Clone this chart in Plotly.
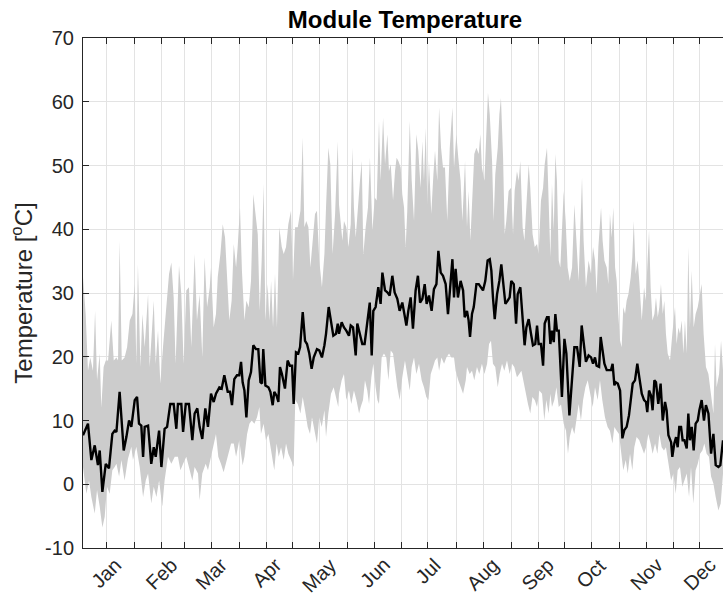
import pandas as pd
import plotly.graph_objects as go

# Daily module temperature: mean line and min/max envelope.
# Day values are days elapsed since 1 Jan 2019 00:00.
mean_day = [
    1.0, 3.8, 5.7, 7.6, 9.4, 10.4, 11.9, 13.8, 15.6, 17.5, 18.8, 19.8, 21.6, 23.9, 25.4, 26.9,
    28.2, 30.1, 31.4, 32.5, 33.8, 34.8, 35.7, 37.6, 39.4, 40.8, 41.9, 43.8, 45.1, 46.9, 48.3,
    50.1, 52.0, 53.5, 54.4, 56.3, 57.3, 58.8, 60.6, 62.5, 63.8, 65.3, 66.6, 68.1, 69.8, 71.3,
    73.0, 74.5, 75.8, 77.7, 79.0, 80.5, 82.4, 83.7, 84.8, 86.1, 87.6, 88.9, 89.9, 90.8, 91.8,
    92.9, 94.2, 95.5, 96.8, 98.3, 99.6, 100.8, 101.7, 102.4, 103.6, 105.3, 106.4, 107.7, 108.6,
    109.9, 110.9, 111.8, 112.9, 114.6, 116.1, 117.4, 118.6, 119.5, 120.8, 122.1, 123.1, 124.6,
    125.9, 127.0, 128.3, 129.6, 130.8, 132.6, 133.9, 135.4, 136.8, 137.7, 139.2, 140.5, 141.8,
    143.3, 144.3,
    145.0, 146.5, 147.8, 149.1, 150.6, 151.6, 152.9, 154.4, 155.3, 156.6, 158.1, 159.4, 160.9,
    162.3, 163.4, 164.3, 165.6, 167.1, 168.4, 169.4, 170.9, 172.2, 173.5, 175.0, 176.3, 177.8,
    179.1, 180.6, 181.9, 182.9, 184.0, 185.3, 186.6, 188.1, 189.4, 190.6, 191.9, 193.2, 194.3,
    195.6, 197.1, 198.4, 199.8, 200.9, 202.2, 203.5, 205.0, 206.3, 207.4, 208.8, 209.7, 210.6,
    211.9, 213.4, 214.8, 215.7,
    217.0, 217.9, 218.7, 219.8, 220.8, 222.3, 223.6, 224.9, 226.0, 227.3, 228.6, 229.8, 230.7,
    231.6, 232.6, 233.9, 235.2, 236.3, 237.6, 238.6, 239.9, 241.0, 241.9, 243.3, 244.6, 245.5,
    247.0, 248.3, 249.4, 250.4, 251.7, 253.0, 254.1, 255.4, 256.4, 257.3, 258.6, 259.8, 260.7,
    262.0, 262.9, 263.9, 264.8, 265.8, 266.7, 267.6, 268.6, 269.5, 270.4, 271.8, 272.9, 274.6,
    276.1, 277.4, 278.9, 280.4, 281.5, 282.6, 283.9, 285.4, 286.8, 287.9,
    289.0, 289.9, 291.3, 292.2, 293.1, 294.3, 295.6, 296.9, 298.0, 298.9, 299.9, 300.6, 301.8,
    303.1, 304.4, 305.5, 306.8, 308.1, 309.3, 310.2, 311.5, 312.8, 313.9, 315.3, 316.6, 317.7,
    318.4, 319.4, 320.5, 321.4, 322.4, 323.3, 324.6, 325.9, 327.1, 328.4, 329.3, 330.3, 331.8,
    332.5, 333.6, 334.6, 335.5, 336.4, 337.4, 338.3, 339.3, 340.6, 341.5, 342.4, 343.4, 344.5,
    345.6, 346.8, 347.7, 349.0, 350.3, 351.4, 352.8, 354.3, 355.6, 356.9, 358.4, 359.5, 361.0,
]
mean_temp = [
    7.7, 9.5, 3.8, 6.1, 3.0, 5.3, -1.2, 3.2, 2.5, 7.9, 8.4, 8.2, 14.5, 5.3, 7.4, 10.0,
    9.0, 13.2, 13.7, 9.5, 9.2, 4.3, 9.0, 9.2, 3.2, 5.8, 4.3, 8.4, 2.7, 8.7, 9.0,
    12.6, 12.6, 8.7, 12.6, 12.6, 8.2, 12.6, 12.6, 6.9, 11.1, 11.9, 9.0, 7.1, 11.9, 9.0,
    14.2, 12.9, 14.2, 15.2, 15.0, 17.1, 14.5, 14.5, 12.4, 16.5, 17.1, 17.1, 19.2, 16.0, 14.7,
    10.5, 16.3, 17.6, 21.8, 21.2, 21.2, 16.0, 15.8, 21.2, 15.5, 15.2, 14.5, 12.4, 14.5,
    13.9, 12.9, 18.4, 17.3, 15.0, 19.4, 18.6, 18.6, 12.6, 20.7, 20.5, 21.5, 27.0,
    22.5, 22.0, 20.5, 18.1, 19.9, 21.2, 21.0, 19.9, 21.8, 23.6, 27.8, 25.7, 23.3,
    23.6, 25.2,
    23.6, 25.4, 24.6, 24.1, 23.3, 24.9, 24.6, 20.2, 25.2, 23.8, 22.0, 22.0, 25.2,
    28.5, 20.2, 27.2, 27.8, 30.9, 28.3, 33.2, 30.4, 30.1, 29.6, 32.7, 30.1, 29.1,
    27.2, 28.5, 26.5, 24.9, 27.2, 29.3, 24.4, 30.4, 32.7, 28.5, 29.1, 31.4, 28.3,
    29.6, 27.2, 30.6, 31.4, 36.6, 33.2, 32.7, 31.4, 26.7, 30.4, 35.3, 29.3, 33.8,
    29.3, 31.9, 30.4, 26.2,
    27.2, 25.7, 23.1, 26.7, 27.8, 31.4, 31.4, 30.9, 30.4, 31.9, 35.1, 35.3, 33.5,
    29.3, 25.9, 29.8, 31.9, 34.5, 31.4, 28.3, 28.8, 29.3, 31.9, 31.4, 25.2, 29.8,
    30.9, 26.7, 21.8, 24.6, 25.9, 23.6, 21.8, 22.0, 24.9, 22.0, 22.0, 18.6, 25.2,
    26.2, 26.2, 22.0, 24.1, 22.3, 26.7, 24.1, 24.1, 18.9, 13.7, 22.8, 20.5, 10.8,
    17.3, 21.5, 21.5, 18.4, 24.9, 22.0, 19.2, 20.2, 19.9, 18.9,
    19.9, 18.6, 18.4, 23.1, 21.5, 18.9, 17.9, 17.9, 17.9, 18.9, 15.5, 16.0, 15.8,
    14.7, 7.2, 8.5, 9.0, 10.8, 13.2, 15.8, 16.3, 18.9, 16.8, 14.2, 13.2, 12.9,
    11.3, 14.7, 13.9, 11.6, 16.3, 16.0, 12.6, 15.8, 10.0, 12.9, 11.6, 7.7, 6.6,
    4.3, 6.4, 7.4, 5.8, 9.0, 9.0, 6.9, 6.9, 5.6, 11.1, 6.9, 9.0, 5.3,
    9.5, 10.0, 11.6, 13.2, 10.0, 12.4, 11.1, 4.8, 7.9, 3.0, 2.7, 3.0, 6.9,
]

max_day = [
    1.0, 2.5, 3.8, 5.1, 6.6, 7.8, 8.9, 10.4, 11.3, 12.6, 13.8, 15.1, 16.9, 18.3, 19.8, 20.7,
    21.6, 22.8, 24.4, 25.8, 27.3, 28.8, 30.1, 31.0, 31.9, 33.3, 34.4, 35.7, 37.6, 38.5, 40.8,
    41.9, 43.2, 44.5, 46.0, 47.9, 49.4, 50.7, 52.0, 53.1, 55.0, 56.3, 57.6, 59.1, 60.6, 61.9,
    63.8, 65.1, 66.6, 68.1, 69.4, 70.8, 72.3,
    73.0, 74.5, 75.8, 76.8, 78.3, 79.6, 80.9, 82.0, 83.3, 84.6, 85.8, 87.1, 88.0, 89.3, 90.4,
    91.8, 92.9, 94.2, 95.5, 96.8, 97.9, 99.3, 100.4, 101.5, 102.6, 103.6, 104.9, 105.8, 106.8,
    107.9, 109.0, 110.1, 111.4, 112.8, 113.9, 115.2, 116.5, 118.0, 119.1, 120.3, 121.8, 123.3,
    124.6, 125.5, 126.6, 127.8, 128.9, 130.2, 131.5, 132.6, 133.9, 135.4, 136.8, 137.7, 139.0,
    140.1, 141.4, 142.8, 144.3,
    145.0, 146.9, 147.8, 149.1, 150.3, 151.6, 152.5, 153.4, 154.4, 155.7, 156.8, 157.8, 158.7,
    160.0, 161.3, 162.4, 163.8, 165.1, 166.2, 167.5, 168.4, 169.8, 170.9, 172.2, 173.1, 174.1,
    175.4, 176.5, 177.4, 178.4, 179.7, 180.6, 181.6, 182.5, 183.4, 184.8, 185.9, 187.2, 188.5,
    189.6, 190.9, 191.9, 192.8, 193.8, 194.7, 195.6, 196.9, 198.1, 199.0, 200.3, 201.3, 202.4,
    203.5, 204.6, 205.9, 207.3, 208.8, 209.7, 211.0, 212.1, 213.4, 214.4, 215.9,
    217.0, 217.9, 218.9, 219.8, 221.1, 222.3, 223.6, 224.5, 225.4, 226.8, 227.9, 228.8, 229.8,
    231.1, 232.0, 232.9, 234.3, 235.2, 236.1, 237.3, 238.2, 239.1, 240.4, 241.8, 242.9, 243.8,
    245.1, 246.1, 247.0, 248.3, 249.3, 250.4, 251.7, 252.6, 253.9, 255.1, 256.4, 257.3, 258.6,
    259.8, 260.7, 262.0, 262.9, 263.9, 264.8, 265.8, 266.7, 267.6, 268.6, 269.5, 270.4, 271.4,
    272.5, 273.6, 274.8, 276.1, 277.4, 278.5, 279.8, 280.8, 281.7, 282.6, 283.9, 285.4, 286.8,
    287.9,
    289.0, 289.9, 290.9, 292.4, 293.3, 294.3, 295.6, 296.5, 297.4, 298.4, 299.3, 300.3, 301.2,
    302.1, 303.1, 304.0, 304.9, 305.9, 306.8, 307.8, 309.1, 310.0, 310.8, 311.9, 313.0, 313.9,
    315.3, 316.6, 317.5, 318.4, 319.4, 320.3, 321.3, 322.4, 323.3, 324.3, 325.2, 326.1, 327.1,
    328.0, 328.9, 329.9, 331.2, 332.5, 334.0, 334.9, 335.9, 336.8, 337.8, 338.7, 339.6, 340.6,
    341.5, 342.4, 343.4, 344.5, 345.6, 346.8, 348.1, 349.0, 350.1, 351.4, 352.8, 354.3, 355.6,
    356.5, 357.4, 358.8, 359.9, 361.0,
]
max_temp = [
    32.5, 26.7, 17.8, 19.9, 17.8, 27.2, 16.3, 20.5, 12.0, 18.4, 19.4, 19.4, 25.7, 19.4, 19.9, 19.4,
    38.2, 19.4, 19.9, 21.5, 25.7, 26.7, 31.4, 18.9, 34.5, 18.4, 26.7, 21.5, 29.8, 18.4, 28.8,
    18.9, 24.1, 15.8, 21.5, 28.8, 33.0, 34.8, 29.3, 18.9, 34.3, 29.8, 18.9, 30.4, 30.9, 21.5,
    36.1, 25.7, 29.8, 19.9, 35.6, 27.8, 30.9,
    34.0, 24.6, 26.7, 32.5, 36.1, 40.8, 38.7, 31.9, 25.7, 28.8, 37.7, 34.0, 37.2, 43.4, 33.5,
    25.7, 28.8, 27.8, 31.9, 45.5, 42.4, 39.2, 27.2, 35.1, 47.1, 25.7, 31.4, 25.7, 31.9,
    24.6, 33.0, 24.6, 40.3, 37.2, 36.1, 37.2, 40.8, 42.9, 31.9, 40.3, 40.3, 42.9,
    54.4, 40.3, 41.3, 40.3, 34.0, 38.7, 42.4, 42.9, 35.1, 30.9, 36.1, 43.4, 52.8,
    50.2, 36.1, 42.4, 53.8,
    43.9, 38.2, 41.3, 40.3, 37.2, 40.8, 52.8, 43.4, 38.7, 44.5, 47.6, 50.7, 36.1,
    40.3, 43.4, 51.2, 39.8, 45.0, 44.5, 57.0, 47.6, 57.5, 50.2, 54.9, 49.1, 50.2,
    44.5, 49.1, 51.2, 50.7, 49.7, 45.5, 43.4, 37.2, 42.9, 57.0, 47.6, 41.3, 54.9,
    52.3, 46.5, 53.8, 47.6, 55.9, 43.9, 50.7, 42.4, 48.6, 52.3, 47.6, 59.1, 52.8,
    49.7, 49.7, 41.3, 52.8, 59.1, 49.7, 54.9, 51.2, 47.6, 41.3, 50.7,
    40.3, 46.0, 38.2, 45.0, 51.8, 52.8, 51.8, 54.9, 49.7, 47.6, 57.0, 61.4, 58.0,
    50.7, 41.3, 48.6, 52.8, 58.0, 60.6, 51.2, 39.2, 41.3, 46.0, 46.5, 39.2, 46.0,
    49.1, 47.6, 50.7, 40.3, 38.2, 43.4, 50.2, 46.5, 39.2, 37.2, 37.7, 36.1, 44.5,
    46.5, 50.2, 52.8, 42.4, 35.6, 47.1, 39.8, 51.8, 47.6, 35.1, 34.0, 39.8, 46.0,
    41.3, 34.0, 31.9, 34.0, 43.9, 39.2, 31.9, 40.8, 48.1, 38.2, 30.9, 35.1, 33.0,
    37.2,
    35.1, 29.8, 37.2, 43.4, 38.2, 35.1, 34.0, 31.4, 42.4, 38.7, 43.4, 34.0, 31.9,
    26.7, 22.5, 21.5, 27.8, 26.7, 28.8, 29.8, 32.5, 35.6, 41.3, 33.0, 35.1, 31.9,
    25.7, 30.9, 28.8, 34.0, 39.8, 30.9, 25.7, 26.7, 29.3, 26.2, 27.8, 31.4, 26.7,
    28.8, 23.6, 20.5, 19.4, 23.6, 27.8, 22.0, 24.6, 23.6, 25.7, 20.5, 25.7, 20.5,
    37.2, 24.6, 33.5, 24.6, 26.7, 27.8, 29.8, 31.4, 23.6, 18.4, 17.3, 13.7, 11.1,
    22.0, 15.2, 17.3, 22.5, 17.9,
]

min_day = [
    1.0, 2.9, 4.4, 5.7, 7.6, 8.9, 10.4, 11.9, 13.2, 14.5, 16.0, 17.5, 18.8, 19.8, 21.3, 22.6,
    24.4, 26.3, 28.2, 29.1, 31.0, 32.9, 34.8, 36.3, 37.6, 39.4, 40.8, 42.3, 43.8, 45.6, 46.9,
    48.8, 50.7, 52.6, 54.4, 55.8, 57.3, 59.1, 60.6, 62.5, 63.8, 65.7, 66.6, 68.1, 70.0, 71.3,
    73.0, 74.5, 75.8, 77.1, 78.6, 80.1, 81.4, 82.8, 84.3, 85.8, 87.1, 88.9, 90.8, 91.8, 93.3,
    94.6, 95.9, 97.4, 98.9, 100.2, 101.1, 102.6, 103.9, 105.3, 106.8, 108.6, 109.9, 111.1,
    112.4, 113.9, 115.2, 116.5, 118.0, 119.5, 120.4, 121.8, 123.3, 124.6, 125.9, 127.4, 128.7,
    129.8, 131.1, 132.6, 133.9, 135.3, 136.8, 137.7, 139.0, 140.5, 142.0, 143.3, 144.6,
    145.0, 146.5, 147.8, 149.1, 150.6, 151.9, 153.4, 154.8, 156.3, 157.2, 158.5, 159.6, 160.9,
    161.9, 163.2, 164.3, 165.6, 166.6, 167.5, 169.0, 170.3, 171.6, 172.8, 174.1, 175.4, 176.9,
    177.8, 179.1, 180.6, 182.1, 183.4, 184.8, 185.9, 187.2, 188.5, 190.0, 191.5, 192.8, 194.1,
    195.3, 196.6, 197.9, 199.0, 200.3, 201.3, 202.6, 204.1, 205.4, 206.9, 208.2, 209.7, 210.6,
    212.1, 213.4, 214.8, 216.3,
    217.0, 218.5, 219.8, 221.1, 222.6, 223.9, 225.4, 226.8, 228.3, 229.4, 230.5, 231.6, 232.9,
    234.3, 235.4, 236.7, 238.0, 239.5, 241.0, 242.3, 243.6, 245.1, 246.4, 247.6, 248.9, 250.2,
    251.3, 252.6, 253.8, 255.1, 256.4, 257.7, 259.2, 260.5, 261.6, 262.9, 263.9, 264.8, 266.1,
    267.3, 268.6, 269.9, 271.4, 272.7, 273.8, 274.8, 276.1, 277.4, 278.5, 279.8, 281.1, 282.3,
    283.6, 284.9, 286.4, 287.7,
    289.0, 290.5, 291.8, 293.1, 294.6, 296.1, 297.4, 298.8, 299.9, 301.2, 302.5, 303.6, 304.9,
    306.3, 307.4, 308.7, 310.0, 311.1, 312.4, 313.9, 315.3, 316.6, 317.7, 319.0, 320.3, 321.4,
    322.8, 324.1, 325.2, 326.5, 327.8, 328.9, 330.3, 331.8, 333.1, 334.4, 335.5, 336.8, 338.1,
    339.3, 340.6, 341.9, 343.0, 344.3, 345.6, 346.8, 348.1, 349.4, 350.5, 351.8, 353.1, 354.3,
    355.6, 356.9, 358.4, 359.7, 361.0,
]
min_temp = [
    2.7, -1.5, 0.6, -2.0, -4.6, -0.9, -3.5, -6.8, -5.1, -0.4, -1.5, 2.2, 2.7, 3.2, 1.2, 3.8,
    0.6, 4.0, 5.9, 3.8, 5.9, 2.7, -2.0, 0.6, 1.7, -3.0, -0.4, -2.0, 0.6, -3.5, 0.6,
    4.3, 3.2, 4.3, 4.3, 2.2, 3.2, 4.3, 2.7, 0.6, 2.7, 1.7, -2.5, 1.7, 3.2, 2.2,
    4.3, 6.4, 7.9, 4.3, 3.2, 1.9, 3.2, 4.8, 6.4, 6.4, 4.3, 6.9, 3.0, 4.3, 7.9,
    9.5, 10.0, 9.5, 10.5, 12.1, 7.9, 9.5, 6.9, 7.9, 5.3, 2.2, 6.4, 4.3,
    5.8, 3.8, 6.4, 4.8, 3.8, 2.7, 13.2, 12.6, 11.1, 13.7, 11.6, 9.0, 7.9,
    10.5, 8.4, 6.4, 10.5, 9.0, 11.6, 7.4, 11.1, 14.2, 15.2, 13.7, 12.1,
    14.2, 16.3, 17.3, 13.2, 14.7, 12.6, 14.7, 13.2, 11.1, 12.1, 13.2, 16.3, 14.7,
    12.6, 16.8, 18.9, 15.2, 13.2, 12.6, 19.9, 20.5, 19.9, 16.3, 21.0, 20.5, 17.3,
    15.2, 13.2, 16.8, 19.4, 17.3, 14.7, 18.4, 19.9, 17.3, 18.9, 16.3, 15.2, 13.7,
    13.2, 17.3, 18.4, 19.4, 19.9, 17.8, 19.9, 18.9, 19.9, 20.5, 19.9, 19.9, 17.8,
    16.3, 15.2, 14.2, 16.3,
    18.4, 17.3, 17.8, 16.3, 18.4, 17.3, 18.9, 17.3, 18.9, 22.0, 22.5, 18.9, 18.4,
    15.2, 17.3, 18.9, 17.8, 19.4, 17.3, 18.9, 18.4, 16.8, 17.3, 17.8, 16.3, 14.2,
    12.6, 11.1, 13.7, 13.2, 12.1, 14.7, 14.2, 10.0, 13.2, 11.1, 14.2, 12.1, 13.2,
    15.2, 12.1, 12.5, 9.5, 8.4, 4.8, 7.4, 9.0, 7.9, 10.0, 12.6, 10.0, 13.2,
    15.2, 16.3, 14.2, 12.1,
    15.2, 13.2, 16.3, 13.2, 10.5, 9.0, 8.4, 6.4, 9.0, 8.4, 7.9, 5.3, 2.2,
    3.8, 1.7, 4.8, 2.2, 5.8, 7.4, 6.9, 5.8, 4.8, 5.8, 7.9, 6.4, 4.8,
    6.4, 4.8, 7.9, 5.8, 5.3, 5.8, 3.2, 0.6, 1.7, -1.5, 2.2, 2.7, -0.4,
    0.6, 1.7, -2.0, 2.7, -3.0, 2.2, 3.2, 4.8, 5.3, 6.4, 4.8, 4.3, 1.2,
    0.1, -2.0, -4.1, -3.0, 1.7,
]

# Axis ticks: labelled at mid-month, unlabelled grid/ticks at each month's end
month_labels = ["Jan", "Feb", "Mar", "Apr", "May", "Jun",
                "Jul", "Aug", "Sep", "Oct", "Nov", "Dec"]
month_mid = [f"2019-{m:02d}-15" for m in range(1, 13)]
month_end = ["2019-01-31", "2019-02-28", "2019-03-31", "2019-04-30", "2019-05-31",
             "2019-06-30", "2019-07-31", "2019-08-31", "2019-09-30", "2019-10-31",
             "2019-11-30"]
y_ticks = [-10, 0, 10, 20, 30, 40, 50, 60, 70]
y_tick_text = ["-10", "0", "10", "20", "30", "40", "50", "60", "70"]

start = pd.Timestamp("2019-01-01")


def to_time(days):
    return [start + pd.Timedelta(days=d) for d in days]


FONT = "Liberation Sans, Arial, Helvetica, sans-serif"
INK = "#262626"
GRID = "#e3e3e3"

band_x = to_time(max_day) + to_time(min_day)[::-1]
band_y = max_temp + min_temp[::-1]

fig = go.Figure()
fig.add_trace(go.Scatter(
    x=band_x, y=band_y, mode="lines", fill="toself",
    fillcolor="#cccccc", line=dict(width=0, color="#cccccc"),
    hoverinfo="skip", showlegend=False,
))
fig.add_trace(go.Scatter(
    x=to_time(mean_day), y=mean_temp, mode="lines",
    line=dict(color="black", width=2.4), showlegend=False,
))

# Rotated month names centred under the mid-month ticks
for lab, d in zip(month_labels, month_mid):
    fig.add_annotation(
        x=d, xref="x", y=0, yref="paper", text=lab, showarrow=False,
        textangle=-45, xanchor="center", yanchor="top", yshift=-3,
        font=dict(family=FONT, size=20, color=INK),
    )

fig.update_layout(
    width=723, height=596,
    margin=dict(l=83, r=0, t=38, b=48),
    plot_bgcolor="white", paper_bgcolor="white",
    font=dict(family=FONT, size=20, color=INK),
    title=dict(
        text="<b>Module Temperature</b>", x=405 / 723, xref="container",
        xanchor="center", y=1 - 20 / 596, yref="container", yanchor="middle",
        font=dict(family=FONT, size=24, color="black"),
    ),
    xaxis=dict(
        type="date", range=["2019-01-02", "2019-12-28"],
        tickmode="array", tickvals=month_mid, showticklabels=False,
        ticks="inside", ticklen=6, tickcolor=INK,
        showgrid=True, gridcolor=GRID, gridwidth=1,
        showline=True, linecolor=INK, linewidth=1, mirror="ticks",
        minor=dict(tickmode="array", tickvals=month_end, ticks="inside",
                   ticklen=6, tickcolor=INK, showgrid=True,
                   gridcolor=GRID, gridwidth=1),
        zeroline=False,
    ),
    yaxis=dict(
        range=[-10, 70], tickmode="array", tickvals=y_ticks, ticktext=y_tick_text,
        ticks="inside", ticklen=6, tickcolor=INK, ticklabelstandoff=4,
        showgrid=True, gridcolor=GRID, gridwidth=1,
        showline=True, linecolor=INK, linewidth=1, mirror=False,
        zeroline=False,
        tickfont=dict(family=FONT, size=20, color=INK),
        title=dict(text="Temperature [<sup>o</sup>C]", standoff=5,
                   font=dict(family=FONT, size=24, color=INK)),
    ),
)

fig.write_html("out.html")
